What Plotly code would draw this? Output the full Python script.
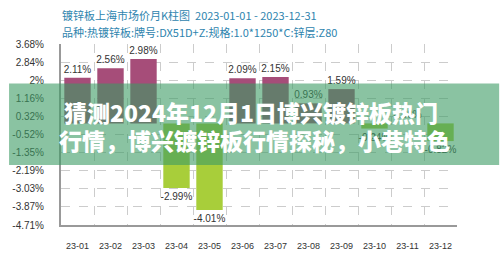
import plotly.graph_objects as go

months = ["23-01", "23-02", "23-03", "23-04", "23-05", "23-06",
          "23-07", "23-08", "23-09", "23-10", "23-11", "23-12"]
changes = [2.11, 2.56, 2.98, -2.99, -4.01, 2.09, 2.15, 0.93, 1.59, -0.24, 0.00, -0.82]
tick_vals = [3.68, 2.84, 2.0, 1.16, 0.32, -0.52, -1.35, -2.19, -3.03, -3.87, -4.71]
tick_text = ["3.68%", "2.84%", "2%", "1.16%", "0.32%", "-0.52%", "-1.35%",
             "-2.19%", "-3.03%", "-3.87%", "-4.71%"]
title1 = "镀锌板上海市场价月K柱图  2023-01-01 - 2023-12-31"
title2 = "品种:热镀锌板:牌号:DX51D+Z:规格:1.0*1250*C:锌层:Z80"
banner1 = "猜测2024年12月1日博兴镀锌板热门"
banner2 = "行情，博兴镀锌板行情探秘，小巷特色"

POS = "#A64D79"
NEG = "#A8CE3A"
colors = [POS if v >= 0 else NEG for v in changes]
labels = [f"{v:.2f}%" for v in changes]

fig = go.Figure()
fig.add_trace(go.Bar(
    x=months, y=changes, marker=dict(color=colors, line=dict(width=0)),
    text=labels, textposition="outside", cliponaxis=False,
    constraintext="none",
    textfont=dict(family="Liberation Sans", size=10, color="#333333"),
))

W, H = 500, 263
L, R, T, B = 53, 43, 44, 26
pw, ph = W - L - R, H - T - B

def px_x(x):
    return (x - L) / pw

def px_y(y):
    return (H - B - y) / ph

fig.add_shape(type="rect", xref="paper", yref="paper",
              x0=px_x(0), x1=px_x(W), y0=px_y(173), y1=px_y(86),
              fillcolor="rgba(60,155,100,0.6)", line=dict(width=0), layer="above")

annos = [
    dict(text=title1, x=px_x(52), y=px_y(13), xanchor="left", yanchor="middle",
         font=dict(family="Noto Sans CJK SC", size=11, color="#2E84AE")),
    dict(text=title2, x=px_x(52), y=px_y(31), xanchor="left", yanchor="middle",
         font=dict(family="Noto Sans CJK SC", size=11, color="#2E84AE")),
    dict(text=banner1, x=px_x(247), y=px_y(117), xanchor="center", yanchor="middle",
         font=dict(family="Noto Sans CJK SC", size=23, color="white", weight=900)),
    dict(text=banner2, x=px_x(250), y=px_y(146), xanchor="center", yanchor="middle",
         font=dict(family="Noto Sans CJK SC", size=23, color="white", weight=900)),
]
for a in annos:
    a.update(xref="paper", yref="paper", showarrow=False)
fig.update_layout(annotations=annos)

fig.update_layout(
    width=W, height=H, margin=dict(l=L, r=R, t=T, b=B),
    paper_bgcolor="white", plot_bgcolor="white", showlegend=False, bargap=0.2,
    xaxis=dict(type="category", tickson="boundaries", showgrid=True, gridcolor="#cccccc",
               griddash="dash", gridwidth=1, showline=True, linecolor="#999999", linewidth=2,
               ticks="", tickangle=0, ticklabelstandoff=11,
               tickfont=dict(family="Liberation Sans", size=9, color="#333333")),
    yaxis=dict(range=[-4.71, 3.68], tickvals=tick_vals, ticktext=tick_text,
               showgrid=True, gridcolor="#cccccc", griddash="dash", gridwidth=1,
               zeroline=False, showline=True, linecolor="#999999", linewidth=2,
               ticks="", ticklabelstandoff=13,
               tickfont=dict(family="Liberation Sans", size=10, color="#333333")),
)

fig.write_html("out.html")
